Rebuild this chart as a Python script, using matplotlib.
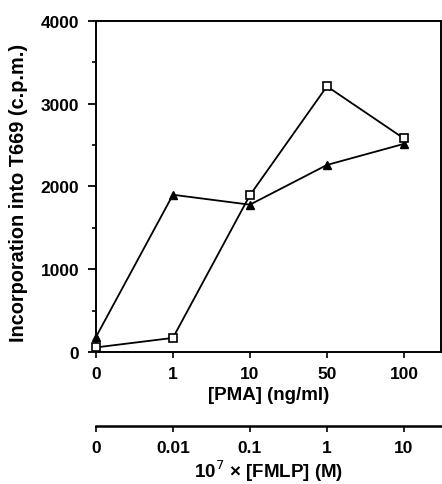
import matplotlib.pyplot as plt
from matplotlib.ticker import MultipleLocator

plt.rcParams['font.family'] = ['Liberation Sans', 'DejaVu Sans']

pma_labels = ["0", "1", "10", "50", "100"]
fmlp_labels = ["0", "0.01", "0.1", "1", "10"]
pma_counts = [55, 170, 1895, 3210, 2580]
fmlp_counts = [180, 1900, 1780, 2260, 2515]


def main():
    fig = plt.figure(figsize=(4.42, 4.85), dpi=100)
    ax = fig.add_axes([0.217, 0.2722, 0.7805, 0.6825])

    x = list(range(len(pma_labels)))
    ax.plot(x, fmlp_counts, color="black", lw=1.3, marker="^", ms=6,
            mfc="black", mec="black", clip_on=False, zorder=3)
    ax.plot(x, pma_counts, color="black", lw=1.3, marker="s", ms=6,
            mfc="white", mec="black", mew=1.2, clip_on=False, zorder=4)

    ax.set_xlim(0, 4.48)
    ax.set_ylim(0, 4000)
    ax.set_xticks(x)
    ax.set_xticklabels(pma_labels)
    ax.set_yticks([0, 1000, 2000, 3000, 4000])
    ax.yaxis.set_minor_locator(MultipleLocator(500))

    for s in ax.spines.values():
        s.set_linewidth(1.4)
    ax.tick_params(axis="y", which="major", length=6, width=1.3, pad=6,
                   labelsize=12.5)
    ax.tick_params(axis="y", which="minor", length=3, width=1.2)
    ax.tick_params(axis="x", length=4, width=1.2, pad=6, labelsize=12.5)
    for lab in ax.get_xticklabels() + ax.get_yticklabels():
        lab.set_fontweight("bold")

    ax.set_xlabel("[PMA] (ng/ml)", fontsize=13.5, fontweight="bold", labelpad=4)
    ax.set_ylabel("Incorporation into T669 (c.p.m.)", fontsize=14.3,
                  fontweight="bold")
    ax.yaxis.set_label_coords(-0.197, 0.483)

    # second concentration scale below
    sec = ax.secondary_xaxis(-0.2236)
    sec.set_xticks(x)
    sec.set_xticklabels(fmlp_labels)
    sec.spines["bottom"].set_linewidth(1.8)
    sec.tick_params(length=4, width=1.2, pad=6, labelsize=12.5)
    for lab in sec.get_xticklabels():
        lab.set_fontweight("bold")
    sec.set_xlabel(r"10$^{7}$ × [FMLP] (M)", fontsize=13.5, fontweight="bold",
                   labelpad=2)

    fig.savefig("out.png", dpi=100)


if __name__ == "__main__":
    main()
